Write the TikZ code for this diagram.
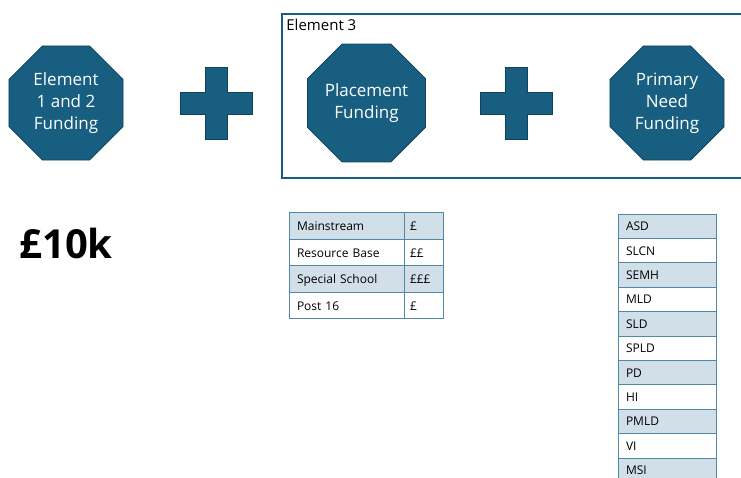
\documentclass[tikz,border=0pt]{standalone}
\usepackage{fontspec}
\setmainfont{Open Sans}
\usepackage{tikz}
\usetikzlibrary{shapes.geometric,positioning}
\definecolor{octafill}{RGB}{24,94,128}
\definecolor{octaline}{RGB}{16,66,92}
\definecolor{gridline}{RGB}{80,136,170}
\definecolor{rowfill}{RGB}{209,223,232}
\tikzstyle{octa} = [regular polygon, regular polygon sides=8, minimum size=123.5pt, inner sep=0pt, draw=octaline, fill=octafill, line width=0.8pt, text=white, align=center, font=\fontsize{17}{22}\selectfont]
\tikzstyle{plusbox} = [draw=octaline, fill=octafill, line width=0.8pt]
\tikzstyle{groupbox} = [rectangle, draw=octafill, line width=1.6pt, inner sep=0pt]
\tikzstyle{cellwide} = [rectangle, draw=gridline, line width=0.8pt, outer sep=0pt, inner xsep=8pt, inner ysep=0pt, text width=99pt, minimum height=26.5pt, text height=9.5pt, text depth=0.5pt, align=left, font=\fontsize{12}{14}\selectfont]
\tikzstyle{cellnarrow} = [cellwide, inner xsep=6pt, text width=27pt]
\tikzstyle{needcell} = [cellwide, text width=82pt, minimum height=24.4pt]

\begin{document}
\begin{tikzpicture}[x=1pt, y=-1pt, node distance=300.5pt]
\path[use as bounding box, clip] (0,0) rectangle (741,477);

\node (fund12) [octa] at (66,103) {Element\\1 and 2\\Funding};
\node (place) [octa, right of=fund12] {Placement\\Funding};
\node (primary) [octa, right of=place] {Primary\\Need\\Funding};

% the two plus signs
\coordinate [right of=fund12, node distance=150pt] (plus1);
\coordinate [right of=place, node distance=150pt] (plus2);
\draw [plusbox] (plus1) ++(-11,-36) -- ++(22,0) -- ++(0,25) -- ++(25,0) -- ++(0,22) -- ++(-25,0) -- ++(0,25) -- ++(-22,0) -- ++(0,-25) -- ++(-25,0) -- ++(0,-22) -- ++(25,0) -- cycle;
\draw [plusbox] (plus2) ++(-11,-36) -- ++(22,0) -- ++(0,25) -- ++(25,0) -- ++(0,22) -- ++(-25,0) -- ++(0,25) -- ++(-22,0) -- ++(0,-25) -- ++(-25,0) -- ++(0,-22) -- ++(25,0) -- cycle;

\node (elem3) [groupbox, minimum width=466pt, minimum height=164pt] at (515,96) {};
\node (elem3label) [anchor=north west, inner sep=0pt, font=\fontsize{15}{17}\selectfont] at ([xshift=5pt,yshift=-6pt]elem3.north west) {Element 3};

\node (total) [font=\bfseries\fontsize{40}{48}\selectfont] at (66,243) {£10k};

% placement table
\begin{scope}[node distance=26.5pt]
\node (mainstream) [cellwide, fill=rowfill] at (346.5,226) {Mainstream};
\node (resource) [cellwide, below of=mainstream] {Resource Base};
\node (special) [cellwide, fill=rowfill, below of=resource] {Special School};
\node (post16) [cellwide, below of=special] {Post 16};
\end{scope}
\begin{scope}[node distance=77pt]
\node (mainstreamcost) [cellnarrow, fill=rowfill, right of=mainstream] {£};
\node (resourcecost) [cellnarrow, right of=resource] {££};
\node (specialcost) [cellnarrow, fill=rowfill, right of=special] {£££};
\node (post16cost) [cellnarrow, right of=post16] {£};
\end{scope}

% primary need table
\begin{scope}[node distance=24.4pt]
\node (asd) [needcell, fill=rowfill] at (667,226.2) {ASD};
\node (slcn) [needcell, below of=asd] {SLCN};
\node (semh) [needcell, fill=rowfill, below of=slcn] {SEMH};
\node (mld) [needcell, below of=semh] {MLD};
\node (sld) [needcell, fill=rowfill, below of=mld] {SLD};
\node (spld) [needcell, below of=sld] {SPLD};
\node (pd) [needcell, fill=rowfill, below of=spld] {PD};
\node (hi) [needcell, below of=pd] {HI};
\node (pmld) [needcell, fill=rowfill, below of=hi] {PMLD};
\node (vi) [needcell, below of=pmld] {VI};
\node (msi) [needcell, fill=rowfill, below of=vi] {MSI};
\end{scope}

\end{tikzpicture}
\end{document}
